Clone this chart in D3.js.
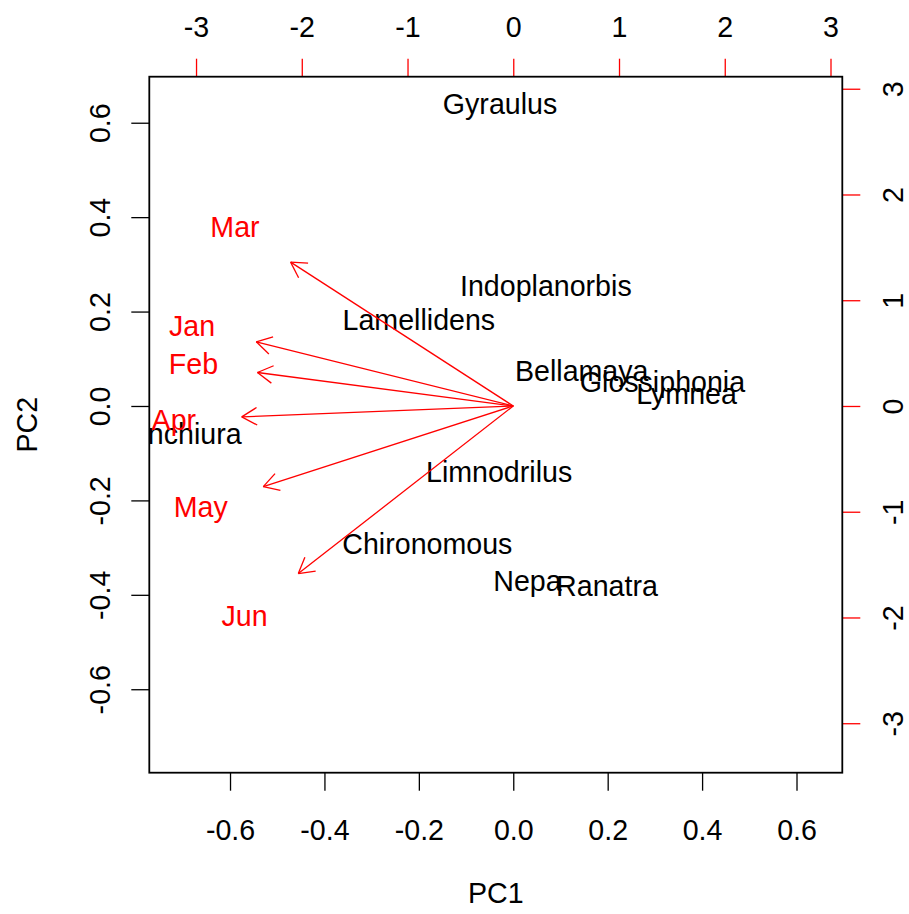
<!DOCTYPE html>
<html>
<head>
<meta charset="utf-8">
<script src="https://cdn.jsdelivr.net/npm/d3@7"></script>
<style>
  html, body { margin: 0; padding: 0; background: #fff; }
  text { font-family: "Liberation Sans", Arial, sans-serif; }
</style>
</head>
<body>
<svg id="chart" width="909" height="914"></svg>
<script>
// ---- data ----
const species = ["Gyraulus","Indoplanorbis","Lamellidens","Bellamaya","Glossiphonia","Lymnea","Branchiura","Limnodrilus","Chironomous","Nepa","Ranatra"];
const speciesPC1 = [-0.028, 0.069, -0.200, 0.145, 0.316, 0.367, -0.722, -0.030, -0.182, 0.030, 0.1985];
const speciesPC2 = [0.640, 0.255, 0.182, 0.074, 0.0515, 0.0254, -0.058, -0.140, -0.292, -0.370, -0.380];

const months = ["Jan","Feb","Mar","Apr","May","Jun"];
const monthPC1 = [-3.038, -3.024, -2.632, -3.21, -2.955, -2.541];
const monthPC2 = [0.759, 0.396, 1.70, -0.129, -0.953, -1.981];

const primaryTicks = [-0.6, -0.4, -0.2, 0.0, 0.2, 0.4, 0.6];
const secondaryTicks = [-3, -2, -1, 0, 1, 2, 3];
const xLabel = "PC1", yLabel = "PC2";

// ---- layout ----
const box = {left: 149.3, right: 842.3, top: 76.7, bottom: 772.7};
const fs = 28.6;
const ratio = 0.224; // primary units per secondary unit

const x = d3.scaleLinear().domain([-0.771, 0.697]).range([box.left, box.right]);
const y = d3.scaleLinear().domain([-0.7768, 0.6975]).range([box.bottom, box.top]);
const x2 = d3.scaleLinear().domain(x.domain().map(v => v / ratio)).range(x.range());
const y2 = d3.scaleLinear().domain(y.domain().map(v => v / ratio)).range(y.range());

const svg = d3.select("#chart");
const fmt1 = v => v.toFixed(1);
const fmt0 = v => String(v);

svg.append("defs").append("clipPath").attr("id", "plotclip")
  .append("rect").attr("x", box.left).attr("y", box.top)
  .attr("width", box.right - box.left).attr("height", box.bottom - box.top);

// ---- primary axes ----
const tickLen = 18;
const gB = svg.append("g").attr("transform", `translate(0,${box.bottom})`)
  .call(d3.axisBottom(x).tickValues(primaryTicks).tickFormat(fmt1).tickSize(tickLen).tickPadding(0));
const gL = svg.append("g").attr("transform", `translate(${box.left},0)`)
  .call(d3.axisLeft(y).tickValues(primaryTicks).tickFormat(fmt1).tickSize(tickLen).tickPadding(0));
const gT = svg.append("g").attr("transform", `translate(0,${box.top})`)
  .call(d3.axisTop(x2).tickValues(secondaryTicks).tickFormat(fmt0).tickSize(tickLen).tickPadding(0));
const gR = svg.append("g").attr("transform", `translate(${box.right},0)`)
  .call(d3.axisRight(y2).tickValues(secondaryTicks).tickFormat(fmt0).tickSize(tickLen).tickPadding(0));

[gB, gL, gT, gR].forEach(g => {
  g.select(".domain").remove();
  g.selectAll("text").attr("font-size", fs).attr("fill", "#000")
    .attr("font-family", '"Liberation Sans", Arial, sans-serif');
});
gB.selectAll(".tick line").attr("stroke", "#000").attr("stroke-width", 1.3);
gL.selectAll(".tick line").attr("stroke", "#000").attr("stroke-width", 1.3);
gT.selectAll(".tick line").attr("stroke", "#ff0000").attr("stroke-width", 1.3);
gR.selectAll(".tick line").attr("stroke", "#ff0000").attr("stroke-width", 1.3);

gB.selectAll(".tick text").attr("y", 830 - box.bottom).attr("dy", "0.36em");
gT.selectAll(".tick text").attr("y", 27 - box.top).attr("dy", "0.36em");
gL.selectAll(".tick text").attr("x", null).attr("y", null).attr("dy", "0.36em")
  .attr("text-anchor", "middle")
  .attr("transform", `translate(${100 - box.left},0) rotate(-90)`);
gR.selectAll(".tick text").attr("x", null).attr("y", null).attr("dy", "0.36em")
  .attr("text-anchor", "middle")
  .attr("transform", `translate(${893 - box.right},0) rotate(-90)`);

// axis titles
svg.append("text").attr("x", (box.left + box.right) / 2).attr("y", 893).attr("dy", "0.36em")
  .attr("text-anchor", "middle").attr("font-size", fs).text(xLabel);
svg.append("text").attr("transform", `translate(27,${(box.top + box.bottom) / 2}) rotate(-90)`)
  .attr("dy", "0.36em").attr("text-anchor", "middle").attr("font-size", fs).text(yLabel);

// ---- plot contents (clipped) ----
const plot = svg.append("g").attr("clip-path", "url(#plotclip)");

// species labels
plot.selectAll("text.sp").data(species).join("text").attr("class", "sp")
  .attr("x", (d, i) => x(speciesPC1[i])).attr("y", (d, i) => y(speciesPC2[i]))
  .attr("dy", "0.36em").attr("text-anchor", "middle").attr("font-size", fs)
  .attr("fill", "#000").text(d => d);

// month arrows (to 0.8 of label position)
const ox = x2(0), oy = y2(0);
const headLen = 17.5, headAng = Math.PI / 6;
months.forEach((m, i) => {
  const tx = x2(monthPC1[i] * 0.8), ty = y2(monthPC2[i] * 0.8);
  plot.append("line").attr("x1", ox).attr("y1", oy).attr("x2", tx).attr("y2", ty)
    .attr("stroke", "#ff0000").attr("stroke-width", 1.3);
  const ang = Math.atan2(ty - oy, tx - ox);
  [-headAng, headAng].forEach(a => {
    plot.append("line").attr("x1", tx).attr("y1", ty)
      .attr("x2", tx - headLen * Math.cos(ang + a))
      .attr("y2", ty - headLen * Math.sin(ang + a))
      .attr("stroke", "#ff0000").attr("stroke-width", 1.3);
  });
});

// month labels
plot.selectAll("text.mo").data(months).join("text").attr("class", "mo")
  .attr("x", (d, i) => x2(monthPC1[i])).attr("y", (d, i) => y2(monthPC2[i]))
  .attr("dy", "0.36em").attr("text-anchor", "middle").attr("font-size", fs)
  .attr("fill", "#ff0000").text(d => d);

// box
svg.append("rect").attr("x", box.left).attr("y", box.top)
  .attr("width", box.right - box.left).attr("height", box.bottom - box.top)
  .attr("fill", "none").attr("stroke", "#000").attr("stroke-width", 1.8);
</script>
</body>
</html>
